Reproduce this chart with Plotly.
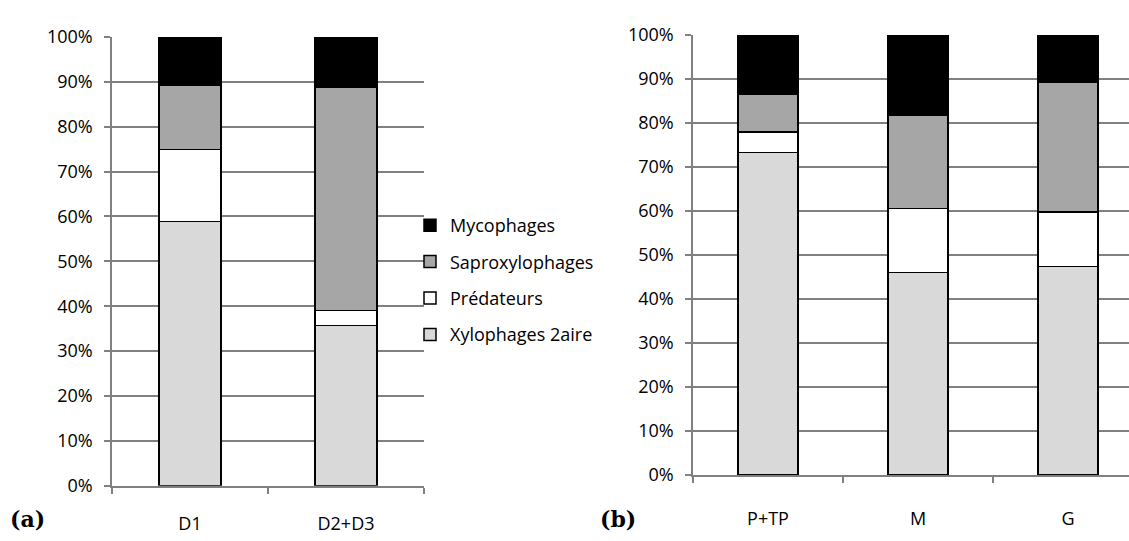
import plotly.graph_objects as go

# ---- data ----
series = ["Xylophages 2aire", "Prédateurs", "Saproxylophages", "Mycophages"]
colors = ["#D9D9D9", "#FFFFFF", "#A6A6A6", "#000000"]

cats_a = ["D1", "D2+D3"]
xylo_a = [58.9, 35.7]
pred_a = [16.0, 3.3]
sapro_a = [14.3, 49.8]
myco_a = [10.8, 11.2]

cats_b = ["P+TP", "M", "G"]
xylo_b = [73.3, 46.0, 47.4]
pred_b = [4.7, 14.6, 12.4]
sapro_b = [8.5, 21.2, 29.5]
myco_b = [13.5, 18.2, 10.7]

y_ticks = list(range(0, 101, 10))
y_ticktext = [f"{v}%" for v in y_ticks]

FONT = "Open Sans"
FS = 18
GRID = "#808080"

fig = go.Figure()
vals_a = [xylo_a, pred_a, sapro_a, myco_a]
vals_b = [xylo_b, pred_b, sapro_b, myco_b]
for i, name in enumerate(series):
    fig.add_trace(go.Bar(
        x=cats_a, y=vals_a[i], name=name, legendgroup=name, showlegend=True,
        legendrank=100 - i,
        marker=dict(color=colors[i], line=dict(color="#000000", width=1.5)),
        xaxis="x", yaxis="y"))
    fig.add_trace(go.Bar(
        x=cats_b, y=vals_b[i], name=name, legendgroup=name, showlegend=False,
        marker=dict(color=colors[i], line=dict(color="#000000", width=1.5)),
        xaxis="x2", yaxis="y2"))

W, H = 1129, 541
def xd(a, b):
    return [a / W, b / W]
def yd(top, bottom):
    return [(H - bottom) / H, (H - top) / H]

common_y = dict(range=[0, 100], tickvals=y_ticks, ticktext=y_ticktext,
                showgrid=True, gridcolor=GRID, gridwidth=1.5,
                showline=True, linecolor=GRID, linewidth=1.5,
                ticks="outside", ticklen=6, tickcolor=GRID, tickwidth=1.5,
                ticklabelstandoff=8, zeroline=False,
                tickfont=dict(family=FONT, size=FS, color="#000000"))
common_x = dict(showline=True, linecolor=GRID, linewidth=1.5,
                ticks="outside", ticklen=6, tickcolor=GRID, tickwidth=1.5,
                tickson="boundaries", showgrid=False,
                tickfont=dict(family=FONT, size=FS, color="#000000"))

fig.update_layout(
    width=W, height=H,
    margin=dict(l=0, r=0, t=0, b=0),
    paper_bgcolor="white", plot_bgcolor="white",
    barmode="stack", bargap=0.6,
    font=dict(family=FONT, size=FS, color="#000000"),
    xaxis=dict(domain=xd(112, 424), range=[-0.5, 1.5], anchor="y",
               ticklabelstandoff=21, **common_x),
    yaxis=dict(domain=yd(25, 494.7), anchor="x", **common_y),
    xaxis2=dict(domain=xd(693, 1129), range=[-0.5, 2.4067], anchor="y2",
                ticklabelstandoff=27, **common_x),
    yaxis2=dict(domain=yd(23, 483.5), anchor="x2", **common_y),
    legend=dict(x=410 / W, xanchor="left", y=(H - 203) / H, yanchor="top",
                traceorder="grouped", tracegroupgap=10,
                font=dict(family=FONT, size=FS, color="#000000"),
                bgcolor="rgba(0,0,0,0)", itemwidth=30),
    annotations=[
        dict(text="<b>(a)</b>", x=8 / W, y=(H - 530) / H, xref="paper", yref="paper",
             xanchor="left", yanchor="middle", showarrow=False,
             font=dict(family="DejaVu Serif", size=22, color="#000000")),
        dict(text="<b>(b)</b>", x=598 / W, y=(H - 530) / H, xref="paper", yref="paper",
             xanchor="left", yanchor="middle", showarrow=False,
             font=dict(family="DejaVu Serif", size=22, color="#000000")),
    ],
)

fig.write_html("out.html")
